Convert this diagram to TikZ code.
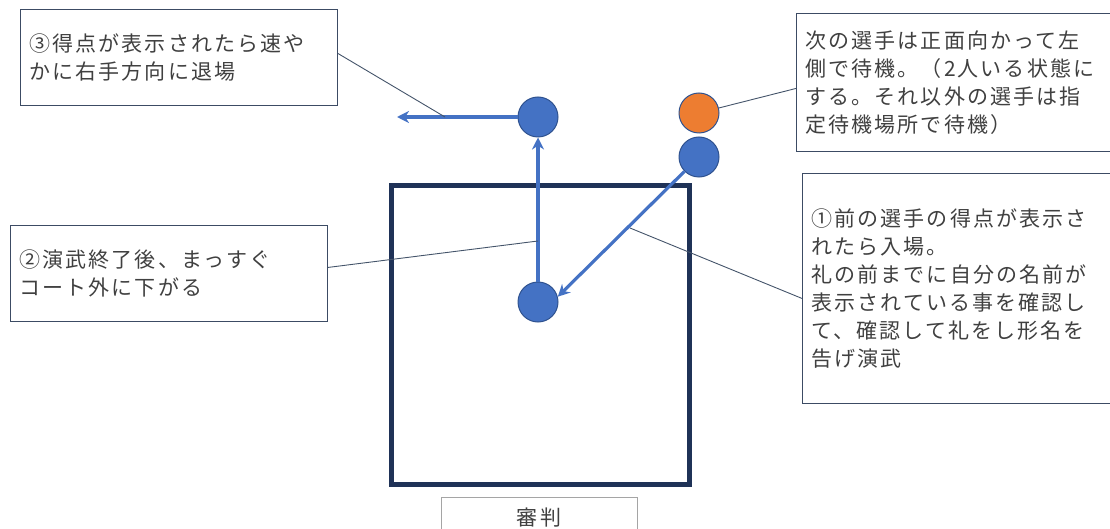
\documentclass[tikz,border=0pt]{standalone}
\usepackage{fontspec}
\newfontfamily\jpfont[LetterSpace=10]{Noto Sans CJK JP}
\usetikzlibrary{arrows.meta}
\definecolor{court}{RGB}{31,50,87}
\definecolor{pblue}{RGB}{68,114,196}
\definecolor{pedge}{RGB}{47,82,143}
\definecolor{porange}{RGB}{237,125,49}
\definecolor{leadc}{RGB}{68,84,106}
\definecolor{txt}{RGB}{64,64,64}
\definecolor{boxc}{RGB}{60,75,100}
\tikzset{
  note/.style={draw=boxc, line width=0.9pt, anchor=north west, align=left, inner xsep=9pt, inner ysep=0pt,
    font=\jpfont\fontsize{21}{28}\selectfont, text=txt},
  person/.style={circle, draw=pedge, line width=1pt, fill=pblue, minimum size=40pt, inner sep=0pt},
  arr/.style={draw=pblue, line width=3.2pt, -{Stealth[length=12pt,width=12pt]}},
  leader/.style={draw=leadc, line width=0.9pt},
}
\begin{document}
\begin{tikzpicture}[x=1pt,y=-1pt]
\useasboundingbox (0,0) rectangle (1110,529);
% court
\node[draw=court, line width=5pt, minimum width=298pt, minimum height=298pt, inner sep=0pt] (court) at (540,335) {};
% judge
\node[draw={rgb,255:red,165;green,165;blue,165}, line width=0.9pt, minimum width=196pt, minimum height=40pt, inner sep=0pt,
  font=\jpfont\fontsize{21}{28}\selectfont, text=txt, anchor=north] (judge) at (539,497) {審判};
% notes
\node[note, text width=299pt, minimum height=96pt] (n3) at (20,9) {③得点が表示されたら速や\\かに右手方向に退場};
\node[note, text width=299pt, minimum height=96pt] (n2) at (10,225) {②演武終了後、まっすぐ\\コート外に下がる};
\node[note, text width=302pt, minimum height=138pt] (nr) at (796,13) {次の選手は正面向かって左\\側で待機。（2人いる状態に\\する。それ以外の選手は指\\定待機場所で待機）};
\node[note, text width=302pt, minimum height=230pt] (n1) at (802,173) {①前の選手の得点が表示さ\\れたら入場。\\礼の前までに自分の名前が\\表示されている事を確認し\\て、確認して礼をし形名を\\告げ演武};
% persons
\node[person] (pt) at (538,117) {};
\node[person] (pc) at (538,302) {};
\node[person, fill=porange] (po) at (699,113) {};
\node[person] (pw) at (699,157) {};
% movements
\coordinate (exit) at (397,117);
\draw[arr] (pc) -- (pt);
\draw[arr] (pt) -- (exit);
\draw[arr] (pw) -- (pc.15);
% leaders
\coordinate (l3) at (445,117);
\coordinate (l2) at (538,241);
\coordinate (l1) at (630,228);
\draw[leader] ([yshift=4pt]n3.east) -- (l3);
\draw[leader] ([yshift=6pt]n2.east) -- (l2);
\draw[leader] ([yshift=-10pt]n1.west) -- (l1);
\draw[leader] ([yshift=-6pt]nr.west) -- (po);
\end{tikzpicture}
\end{document}
